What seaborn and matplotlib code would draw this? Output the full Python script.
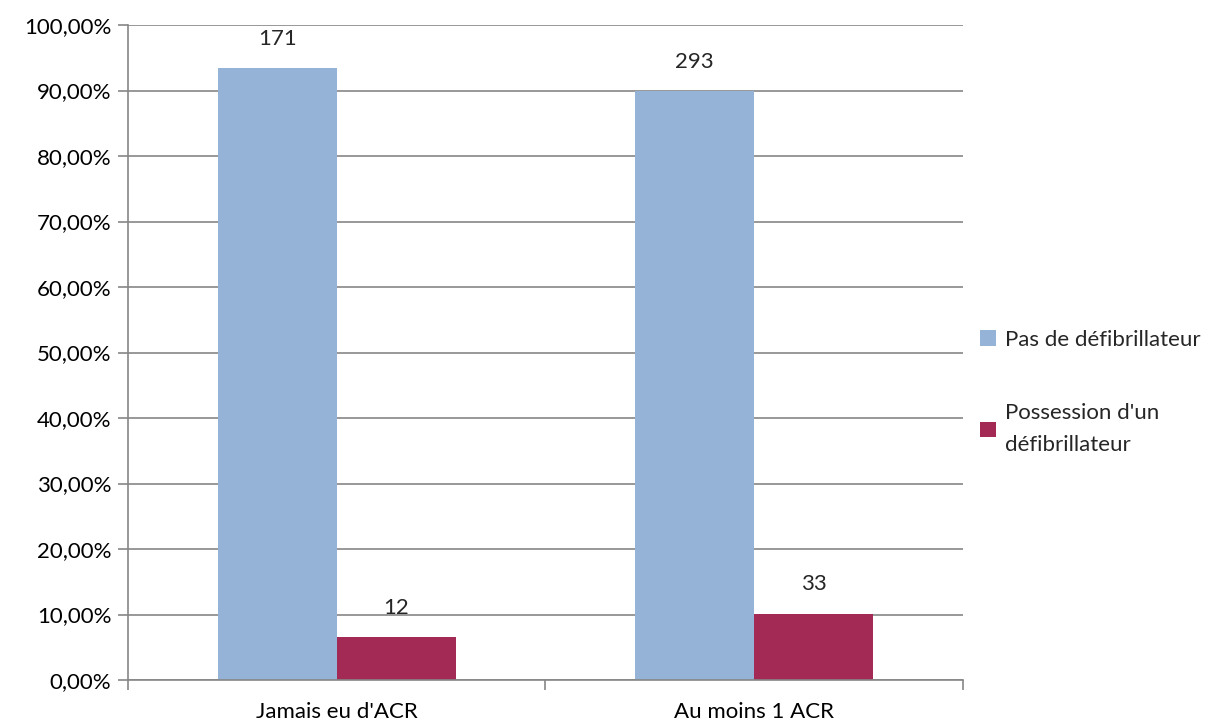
import pandas as pd
import seaborn as sns
import matplotlib.pyplot as plt
from matplotlib.ticker import FixedLocator, FuncFormatter

# Data
groupes = ["Jamais eu d'ACR", "Au moins 1 ACR"]
series = ["Pas de défibrillateur", "Possession d'un\ndéfibrillateur"]
pct_pas = [93.44, 89.88]
pct_poss = [6.56, 10.12]
n_pas = [171, 293]
n_poss = [12, 33]

df = pd.DataFrame({
    "Groupe": groupes * 2,
    "Serie": [series[0]] * 2 + [series[1]] * 2,
    "Pct": pct_pas + pct_poss,
    "N": n_pas + n_poss,
})

sns.set_theme(style="white")
plt.rcParams["font.family"] = ["Lato", "DejaVu Sans"]
FS = 16

fig = plt.figure(figsize=(12.15, 7.25), dpi=100)
ax = fig.add_axes([0.1053, 0.062, 0.6873, 0.9035])

ax.yaxis.grid(True, color="#868686", linewidth=1.2)
ax.set_axisbelow(True)

sns.barplot(data=df, x="Groupe", y="Pct", hue="Serie", hue_order=series,
            palette=["#95B3D7", "#A32A55"], width=0.57, gap=0,
            saturation=1, linewidth=0, ax=ax)

# count labels above bars
for cont, counts in zip(ax.containers, [n_pas, n_poss]):
    ax.bar_label(cont, labels=[str(c) for c in counts], padding=14, fontsize=FS)

ax.set_ylim(0, 100)
ax.set_xlim(-0.5, 1.5)
ax.set_yticks(range(0, 101, 10))
ax.yaxis.set_major_formatter(FuncFormatter(lambda v, p: f"{v:.2f}%".replace(".", ",")))
ax.set_xlabel("")
ax.set_ylabel("")

for s in ["top", "right"]:
    ax.spines[s].set_visible(False)
for s in ["left", "bottom"]:
    ax.spines[s].set_color("#868686")
    ax.spines[s].set_linewidth(1.2)

ax.tick_params(axis="y", left=True, length=7, width=1.2, color="#868686",
               labelsize=FS, pad=5, labelcolor="black")
ax.tick_params(axis="x", bottom=False, labelsize=FS, pad=10, labelcolor="black")
ax.xaxis.set_minor_locator(FixedLocator([-0.5, 0.5, 1.5]))
ax.tick_params(axis="x", which="minor", bottom=True, length=7, width=1.2,
               color="#868686")

leg = ax.legend(loc="upper left", bbox_to_anchor=(1.01, 0.548), frameon=False,
                fontsize=FS, handlelength=0.7, handleheight=0.7, handletextpad=0.4,
                labelspacing=2.4, borderaxespad=0)
for t in leg.get_texts():
    t.set_linespacing(1.75)

plt.savefig("out.png", dpi=100)
plt.close()
